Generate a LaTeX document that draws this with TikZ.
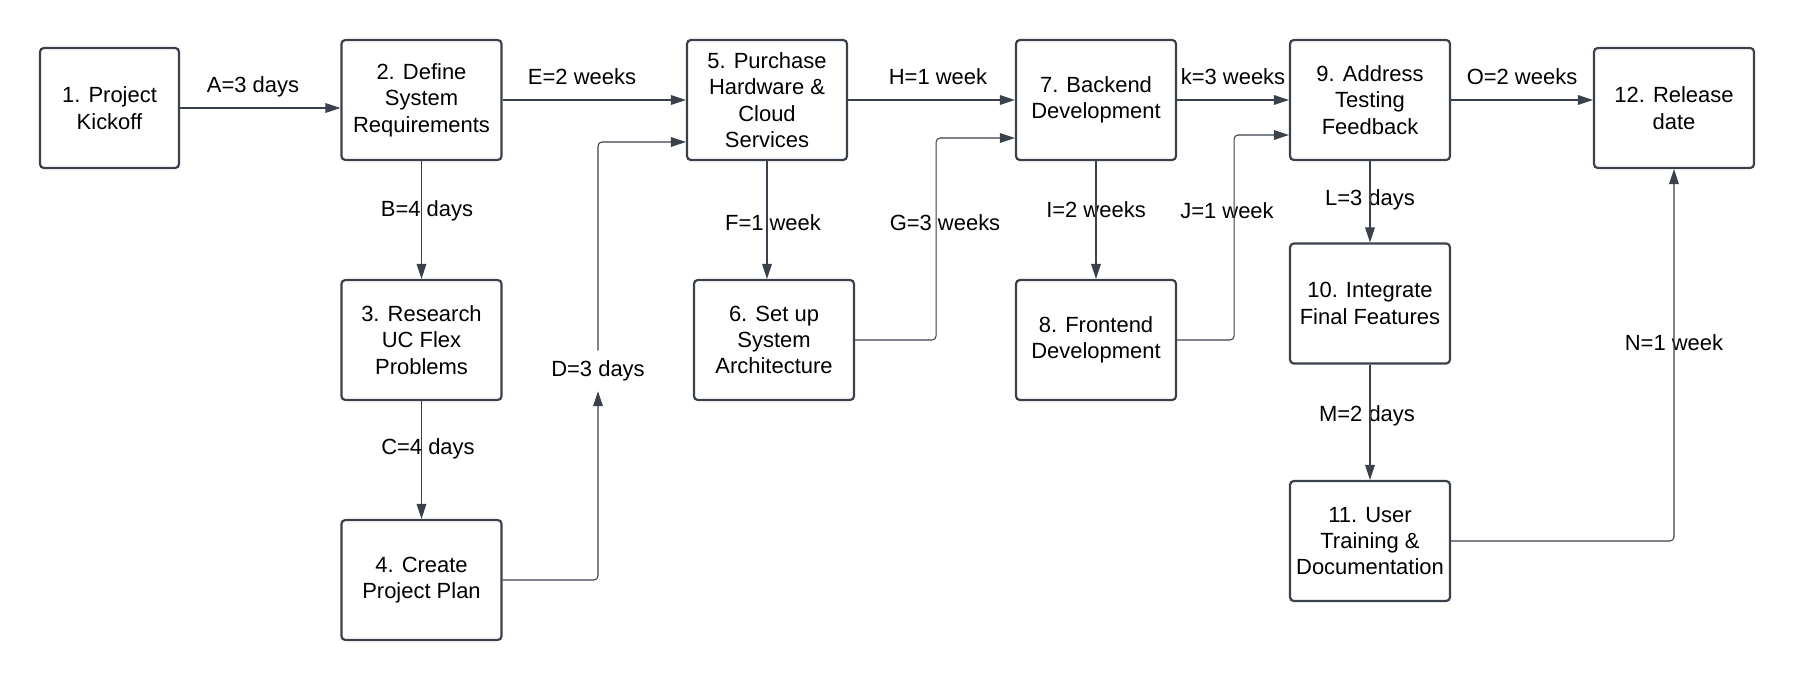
\documentclass[tikz,border=0pt]{standalone}
\usepackage{fontspec}
\setmainfont{Liberation Sans}
\usepackage{xcolor}
\usetikzlibrary{arrows.meta}
\definecolor{lucidgray}{HTML}{3A414A}

\begin{document}
\begin{tikzpicture}[x=1cm, y=1cm, font=\fontsize{12.5}{15}\selectfont,
  task/.style={draw=lucidgray, line width=1.25pt, rounded corners=2.2pt,
    minimum width=3.2cm, minimum height=2.4cm, align=center, inner sep=2pt},
  link/.style={draw=lucidgray, line width=0.6pt, rounded corners=2.3pt,
    -{Triangle[length=8.5pt, width=5.5pt]}},
  dur/.style={inner sep=1pt}]

  \useasboundingbox (0,0) rectangle (35.88,-13.6);

  % the kickoff box is a bit narrower than the rest
  \node[task, minimum width=2.78cm] (t1) at (2.19,-2.16) {1. Project\\Kickoff};
  \foreach \id/\x/\y/\txt in {
      t2/8.43/-2.0/{2. Define\\System\\Requirements},
      t3/8.43/-6.8/{3. Research\\UC Flex\\Problems},
      t4/8.43/-11.6/{4. Create\\Project Plan},
      t5/15.34/-2.0/{5. Purchase\\Hardware \&\\Cloud\\Services},
      t6/15.48/-6.8/{6. Set up\\System\\Architecture},
      t7/21.92/-2.0/{7. Backend\\Development},
      t8/21.92/-6.8/{8. Frontend\\Development},
      t9/27.4/-2.0/{9. Address\\Testing\\Feedback},
      t10/27.4/-6.07/{10. Integrate\\Final Features},
      t11/27.4/-10.82/{11. User\\Training \&\\Documentation},
      t12/33.48/-2.16/{12. Release\\date}}
    \node[task] (\id) at (\x,\y) {\txt};

  % durations; the lines run straight through most of them
  \foreach \id/\x/\y/\txt in {
      dA/5.06/-1.74/{A=3 days},   dB/8.54/-4.22/{B=4 days},
      dC/8.56/-8.98/{C=4 days},   dE/11.64/-1.54/{E=2 weeks},
      dF/15.46/-4.46/{F=1 week},  dG/18.9/-4.46/{G=3 weeks},
      dH/18.76/-1.54/{H=1 week},  dI/21.92/-4.2/{I=2 weeks},
      dK/24.66/-1.54/{k=3 weeks}, dJ/24.54/-4.22/{J=1 week},
      dL/27.4/-4.0/{L=3 days},    dM/27.34/-8.32/{M=2 days},
      dN/33.48/-6.86/{N=1 week},  dO/30.44/-1.54/{O=2 weeks}}
    \node[dur] (\id) at (\x,\y) {\txt};
  % D is the one label that breaks its line
  \node[dur, inner ysep=5.5pt] (dD) at (11.96,-7.42) {D=3 days};

  \draw[link] (t1.east) -- (t1.east -| t2.west);
  \draw[link] (t2.south) -- (t3.north);
  \draw[link] (t3.south) -- (t4.north);
  \draw[link] (t4.east) -| (dD.south);
  \draw[link] (dD.north) |- ([yshift=-8.4mm]t5.west);
  \draw[link] (t2.east) -- (t5.west);
  \draw[link] (t5.south) -- (t5.south |- t6.north);
  \draw[link] (t6.east) -- ++(1.62,0) |- ([yshift=-7.6mm]t7.west);
  \draw[link] (t5.east) -- (t7.west);
  \draw[link] (t7.south) -- (t8.north);
  \draw[link] (t7.east) -- (t9.west);
  \draw[link] (t8.east) -- ++(1.14,0) |- ([yshift=-7mm]t9.west);
  \draw[link] (t9.south) -- (t10.north);
  \draw[link] (t10.south) -- (t11.north);
  \draw[link] (t11.east) -| (t12.south);
  \draw[link] (t9.east) -- (t9.east -| t12.west);

\end{tikzpicture}
\end{document}
